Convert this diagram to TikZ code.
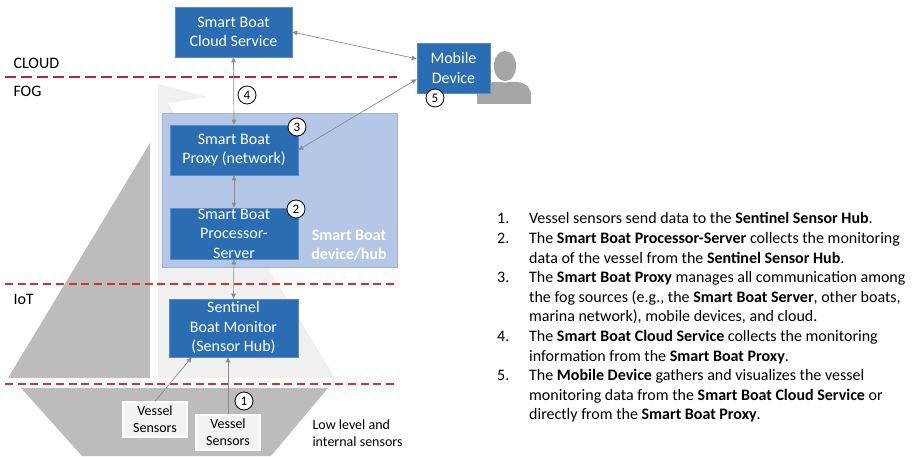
\documentclass[tikz,border=0pt]{standalone}
\usepackage{fontspec}
\setmainfont{Carlito}
\usetikzlibrary{arrows.meta}

\definecolor{boatblue}{HTML}{2B6DB2}
\definecolor{blueedge}{HTML}{5A8CC8}
\definecolor{hubfill}{HTML}{B4C7E7}
\definecolor{hubedge}{HTML}{9DB3DA}
\definecolor{sailgray}{HTML}{BCBCBC}
\definecolor{sailwhite}{HTML}{F0F0F0}
\definecolor{sensorfill}{HTML}{F2F2F2}
\definecolor{persongray}{HTML}{A6A6A6}
\definecolor{linkgray}{HTML}{8C8C8C}
\definecolor{cloudred}{HTML}{A8302C}
\definecolor{layerred}{HTML}{D2332B}

\tikzset{
  blk/.style={fill=boatblue, draw=blueedge, line width=0.6pt, text=white,
    align=center, inner sep=0pt, font=\fontsize{16}{19.5}\selectfont},
  sensorbox/.style={fill=sensorfill, draw=white, line width=1.2pt,
    minimum width=64pt, minimum height=35pt, inner sep=0pt, align=center,
    font=\fontsize{14}{17}\selectfont},
  num/.style={circle, draw, fill=white, line width=0.8pt, inner sep=0pt,
    minimum size=18pt, font=\fontsize{13}{13}\selectfont},
  link/.style={draw=linkgray, line width=0.7pt},
  layer/.style={line width=2.5pt, dash pattern=on 8pt off 4.7pt},
  tag/.style={anchor=west, font=\fontsize{16}{19.5}\selectfont},
}

\begin{document}
\begin{tikzpicture}[x=1pt, y=-1pt, >={Triangle[length=5pt,width=4.5pt]}]
  \useasboundingbox (0,0) rectangle (918,457);

  % boat: sails and hull
  \fill[sailgray] (150,143) -- (8,378) -- (150,378) -- cycle;
  \fill[sailwhite] (158,84) -- (208,97) -- (168,103) -- (335,378) -- (158,378) -- cycle;
  \fill[sailgray] (21,388) -- (328,388) -- (271,456) -- (82,456) -- cycle;

  % layer borders
  \draw[layer, cloudred, dash pattern=on 11pt off 5pt] (5,77) -- (397,77);
  \draw[layer, layerred] (5,284) -- (397,284);
  \draw[layer, layerred] (5,384) -- (397,384);
  \node[tag] (cloudtag) at (10,63) {CLOUD};
  \node[tag] (fogtag) at (10,91) {FOG};
  \node[tag] (iottag) at (10,299) {IoT};

  % user
  \fill[persongray] (477,104) -- (477,96) .. controls (477,87) and (485,83) .. (494,82)
    -- (517,82) .. controls (526,83) and (531,87) .. (531,96) -- (531,104) -- cycle;
  \filldraw[fill=persongray, draw=white, line width=1.5pt] (505,66) ellipse (12 and 16);

  \node[fill=hubfill, draw=hubedge, line width=0.8pt, minimum width=235pt,
    minimum height=154pt] (hub) at (279.5,190) {};
  \node[text=white, align=center, font=\fontsize{16}{19.5}\selectfont\bfseries]
    (hubtag) at (349,245) {Smart Boat\\device/hub};

  \node[blk, minimum width=117pt, minimum height=50pt] (cloud) at (233.5,32) {Smart Boat\\Cloud Service};
  \node[blk, minimum width=73pt, minimum height=50pt] (mobile) at (453.5,68) {Mobile\\Device};
  \node[blk, minimum width=128pt, minimum height=50pt] (proxy) at (234,150) {Smart Boat\\Proxy (network)};
  \node[blk, minimum width=128pt, minimum height=51pt, inner ysep=-3pt] (proc) at (234,233.5) {Smart Boat\\Processor-\\Server};
  \node[blk, minimum width=129pt, minimum height=58pt] (sentinel) at (233.5,328) {Sentinel\\Boat Monitor\\(Sensor Hub)};

  \node[sensorbox] (vessel1) at (155,419.5) {Vessel\\Sensors};
  \node[sensorbox] (vessel2) at (228,432.5) {Vessel\\Sensors};
  \node[anchor=west, align=left, font=\fontsize{14}{16.5}\selectfont]
    (lowtag) at (309,433) {Low level and\\internal sensors};

  \begin{scope}[link]
    \draw[<->] (cloud.east) -- (mobile.166);
    \draw[<->] (proxy.east) -- (mobile.197);
    \draw[<->] (cloud.south) -- (proxy.north);
    \draw[<->] (proxy.south) -- (proc.north);
    \draw[<->] (proc.south) -- (sentinel.north);
    \draw[->] (vessel1.north) -- (sentinel.215);
    \draw[->] (vessel2.north) -- (vessel2.north |- sentinel.south);
  \end{scope}

  \node[num] (n1) at (244,401) {1};
  \node[num] (n2) at (296,209) {2};
  \node[num] (n3) at (297,127) {3};
  \node[num] (n4) at (247,95) {4};
  \node[num] (n5) at (435,98) {5};

  \node[anchor=north west, inner sep=0pt, font=\fontsize{16}{19.6}\selectfont] (steps) at (497,210) {%
    \begin{tabular}{@{}p{32pt}@{}l@{}}
      1. & Vessel sensors send data to the \textbf{Sentinel Sensor Hub}.\\
      2. & The \textbf{Smart Boat Processor-Server} collects the monitoring\\
         & data of the vessel from the \textbf{Sentinel Sensor Hub}.\\
      3. & The \textbf{Smart Boat Proxy} manages all communication among\\
         & the fog sources (e.g., the \textbf{Smart Boat Server}, other boats,\\
         & marina network), mobile devices, and cloud.\\
      4. & The \textbf{Smart Boat Cloud Service} collects the monitoring\\
         & information from the \textbf{Smart Boat Proxy}.\\
      5. & The \textbf{Mobile Device} gathers and visualizes the vessel\\
         & monitoring data from the \textbf{Smart Boat Cloud Service} or\\
         & directly from the \textbf{Smart Boat Proxy}.
    \end{tabular}};
\end{tikzpicture}
\end{document}
